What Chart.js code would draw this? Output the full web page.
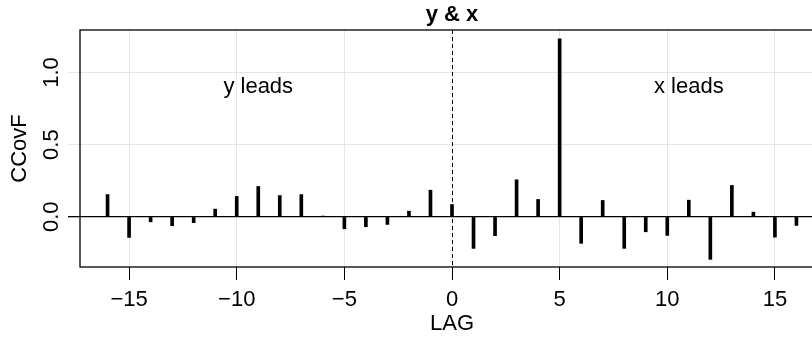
<!DOCTYPE html>
<html lang="en">
<head>
    <meta charset="UTF-8">
    <title>y &amp; x</title>
    <style>
        body {
            margin: 0;
            background: white;
            overflow: hidden;
        }
        #wrap {
            width: 812px;
            height: 341px;
            overflow: hidden;
        }
    </style>
    <script src="https://cdn.jsdelivr.net/npm/chart.js"></script>
</head>
<body>
    <div id="wrap"><canvas id="ccf" width="830" height="341"></canvas></div>
    <script>
        // lags and cross-covariance values
        var lags = [-16, -15, -14, -13, -12, -11, -10, -9, -8, -7, -6, -5, -4, -3, -2, -1,
                    0, 1, 2, 3, 4, 5, 6, 7, 8, 9, 10, 11, 12, 13, 14, 15, 16];
        var ccov = [0.154, -0.143, -0.035, -0.062, -0.041, 0.053, 0.141, 0.210, 0.147, 0.154, 0.005, -0.083, -0.069, -0.053, 0.039, 0.184,
                    0.085, -0.219, -0.131, 0.256, 0.120, 1.233, -0.184, 0.113, -0.219, -0.104, -0.129, 0.115, -0.295, 0.217, 0.032, -0.141, -0.060];
        var xTicks = [-15, -10, -5, 0, 5, 10, 15];
        var yTicks = [0, 0.5, 1.0];
        var notes = [
            { text: 'y leads', lag: -9, value: 0.90 },
            { text: 'x leads', lag: 11, value: 0.90 }
        ];

        var fontFam = '"Liberation Sans", Arial, Helvetica, sans-serif';
        var gridGray = '#e6e6e6';

        var extras = {
            id: 'extras',
            afterDatasetsDraw: function(chart) {
                var ctx = chart.ctx;
                var a = chart.chartArea;
                var xs = chart.scales.x, ys = chart.scales.y;
                ctx.save();
                // dashed line at lag 0
                var x0 = Math.round(xs.getPixelForValue(0)) + 0.5;
                ctx.strokeStyle = 'black';
                ctx.lineWidth = 1;
                ctx.setLineDash([4, 3]);
                ctx.beginPath();
                ctx.moveTo(x0, a.top);
                ctx.lineTo(x0, a.bottom);
                ctx.stroke();
                ctx.setLineDash([]);
                // box
                ctx.lineWidth = 1.3;
                ctx.strokeRect(a.left, a.top, a.right - a.left, a.bottom - a.top);
                // notes
                ctx.fillStyle = 'black';
                ctx.font = '22px ' + fontFam;
                ctx.textAlign = 'center';
                ctx.textBaseline = 'middle';
                notes.forEach(function(n) {
                    ctx.fillText(n.text, xs.getPixelForValue(n.lag), ys.getPixelForValue(n.value));
                });
                // title
                ctx.font = 'bold 22px ' + fontFam;
                ctx.textBaseline = 'alphabetic';
                ctx.fillText('y & x', (a.left + a.right) / 2, 21);
                ctx.restore();
            }
        };

        new Chart(document.getElementById('ccf'), {
            type: 'bar',
            data: {
                datasets: [{
                    data: lags.map(function(l, i) { return { x: l, y: ccov[i] }; }),
                    backgroundColor: 'black',
                    borderWidth: 0,
                    barThickness: 3
                }]
            },
            options: {
                responsive: false,
                animation: false,
                layout: { padding: { top: 30, right: 6 } },
                plugins: {
                    legend: { display: false },
                    tooltip: { enabled: false }
                },
                scales: {
                    x: {
                        type: 'linear',
                        min: -17.28,
                        max: 17.28,
                        offset: false,
                        afterBuildTicks: function(s) {
                            s.ticks = xTicks.map(function(v) { return { value: v }; });
                        },
                        afterFit: function(s) { s.height = 74; },
                        grid: {
                            offset: false,
                            color: gridGray,
                            tickColor: 'black',
                            tickLength: 13,
                            lineWidth: 1
                        },
                        border: { display: false },
                        ticks: {
                            padding: 7,
                            color: 'black',
                            maxRotation: 0,
                            autoSkip: false,
                            font: { family: fontFam, size: 22 },
                            callback: function(v) { return v < 0 ? '\u2212' + Math.abs(v) : String(v); }
                        },
                        title: {
                            display: true,
                            text: 'LAG',
                            color: 'black',
                            padding: { top: 0, bottom: 4 },
                            font: { family: fontFam, size: 22 }
                        }
                    },
                    y: {
                        min: -0.348,
                        max: 1.294,
                        afterBuildTicks: function(s) {
                            s.ticks = yTicks.map(function(v) { return { value: v }; });
                        },
                        afterFit: function(s) { s.width = 80; },
                        grid: {
                            color: function(c) { return c.tick && c.tick.value === 0 ? 'black' : gridGray; },
                            lineWidth: function(c) { return c.tick && c.tick.value === 0 ? 1.3 : 1; },
                            tickLength: 12
                        },
                        border: { display: false },
                        ticks: {
                            padding: 1,
                            color: 'black',
                            minRotation: 90,
                            maxRotation: 90,
                            crossAlign: 'center',
                            font: { family: fontFam, size: 22 },
                            callback: function(v) { return v.toFixed(1); }
                        },
                        title: {
                            display: true,
                            text: 'CCovF',
                            color: 'black',
                            padding: { top: 7, bottom: 0 },
                            font: { family: fontFam, size: 22 }
                        }
                    }
                }
            },
            plugins: [extras]
        });
    </script>
</body>
</html>
